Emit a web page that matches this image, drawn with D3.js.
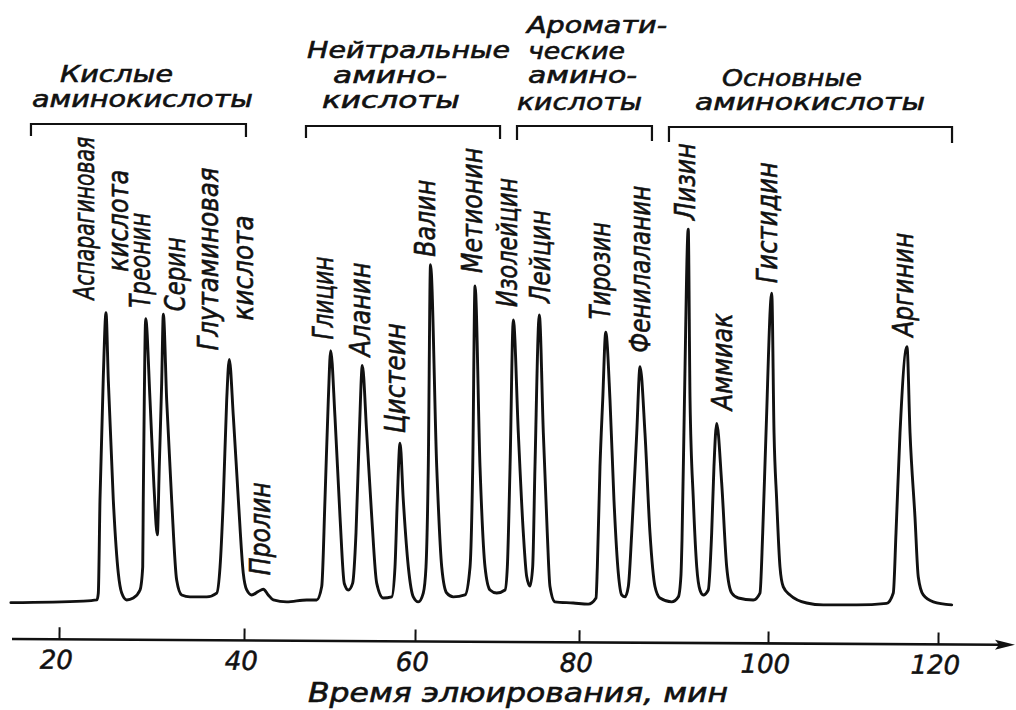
<!DOCTYPE html>
<html><head><meta charset="utf-8">
<script src="https://cdn.jsdelivr.net/npm/d3@7"></script>
<style>
html,body{margin:0;padding:0;background:#fff;}
svg{display:block;}
</style></head><body>
<svg id="chart" width="1016" height="710"></svg>
<script>
// ---- data (elution time, min ; detector signal, arbitrary units) ----
const traceTime = [14.8,22.6,24.1,24.25,24.43,24.79,25.08,25.33,25.87,26.41,26.78,27.32,28.03,28.76,29.05,29.11,29.22,29.37,29.84,30.27,30.63,30.84,31.10,31.28,31.64,32.18,32.72,33.26,34.16,35.97,37.05,37.41,37.76,38.13,38.41,38.85,39.39,39.92,40.32,40.90,41.67,42.26,42.84,43.43,44.99,47.33,48.50,49.09,49.47,49.86,50.14,50.64,51.23,51.73,52.20,52.71,53.10,53.49,53.84,54.35,54.94,55.52,56.29,57.28,57.66,57.93,58.25,58.63,59.22,59.80,60.40,61.01,61.34,61.62,61.89,62.65,63.26,63.87,64.67,66.10,66.71,67.04,67.32,67.93,68.54,69.15,69.96,70.98,71.26,71.59,71.99,72.60,73.21,73.62,74.02,74.35,74.63,75.16,75.65,76.13,76.46,77.07,79.30,80.98,81.80,81.94,82.22,82.51,82.83,83.28,83.70,84.16,84.52,84.87,85.22,85.58,86.11,86.46,86.98,87.51,88.04,88.57,89.81,90.51,90.79,90.90,91.16,91.56,91.75,92.10,92.46,92.80,93.15,93.68,94.04,94.28,94.57,95.10,95.63,96.16,96.86,98.44,99.15,99.44,99.79,100.44,100.71,101.02,101.41,101.80,102.59,104.55,106.51,110.44,113.96,114.74,115.06,115.53,116.35,116.71,117.29,117.68,118.27,119.45,121.61];
const traceSignal = [0.1,0.5,0.8,2.6,26.9,59.1,75.8,58.2,26.9,7.8,2.6,0.8,1.3,3.4,9.4,26.9,53.0,74.2,53.0,30.3,17.8,35.6,57.4,75.4,53.0,26.9,6.0,2.1,1.6,1.6,2.6,9.4,26.9,53.0,63.6,48.6,26.9,7.8,3.4,2.1,3.0,3.6,2.1,0.8,0.3,0.8,0.8,4.3,26.9,53.0,65.9,48.6,22.5,5.1,3.4,5.2,18.3,44.4,62.0,44.4,22.5,5.2,1.3,1.6,9.4,26.9,41.7,26.9,9.4,1.6,0.3,2.6,9.4,35.5,88.3,35.5,9.4,2.6,1.6,2.1,9.4,35.5,82.8,35.5,9.4,3.4,2.6,3.4,9.4,35.5,73.9,44.4,18.3,6.9,4.4,9.4,35.5,75.2,44.4,18.3,4.3,0.3,0.0,-0.3,1.3,9.4,35.5,53.0,70.7,53.0,26.9,7.8,2.1,1.6,4.3,18.3,44.4,61.7,44.4,18.3,4.3,1.3,0.3,1.6,7.3,16.4,53.0,97.6,53.0,26.9,9.4,3.4,2.1,3.4,18.3,35.5,46.9,31.3,9.4,2.6,1.3,0.8,2.6,18.3,44.4,80.9,44.4,26.9,9.4,4.2,2.1,0.0,-0.5,-0.5,-0.1,2.6,18.3,44.4,66.9,44.4,22.5,6.8,2.1,0.3,-0.5];

const peakLabels = [["Аспарагиновая","кислота"],["Треонин"],["Серин"],["Глутаминовая","кислота"],["Пролин"],["Глицин"],["Аланин"],["Цистеин"],["Валин"],["Метионин"],["Изолейцин"],["Лейцин"],["Тирозин"],["Фенилаланин"],["Лизин"],["Аммиак"],["Гистидин"],["Аргинин"]];
const peakTimes = [25.08,29.37,31.28,38.41,42.26,50.14,53.84,58.25,61.89,67.32,71.99,75.16,82.83,86.46,91.56,94.57,100.44,116.35];
const peakHeights = [75.8,74.2,75.4,63.6,3.6,65.9,62.0,41.7,88.3,82.8,73.9,75.2,70.7,61.7,97.6,46.9,80.9,66.9];

const groupLabels = [["Кислые","аминокислоты"],["Нейтральные","амино-","кислоты"],["Аромати-","ческие","амино-","кислоты"],["Основные","аминокислоты"]];
const groupStart = [16.97,47.25,72.44,89.52];
const groupEnd = [40.23,70.37,87.72,121.65];

const tickValues = [20,40,60,80,100,120];
const axisTitle = "Время элюирования, мин";

// ---- layout (label placement only) ----
// per peak label line: [dx from apex, dy from apex, text length]
const peakLabelLayout = [
  [[-12,-13,163],[22,-41,102]],
  [[4,-11,95]],
  [[22,-3,74]],
  [[-11,-9,183],[24,-39,105]],
  [[7,-14,93]],
  [[2,-11,83]],
  [[8,-9,94]],
  [[5,-10,110]],
  [[4.5,-8,77]],
  [[7,-13,125]],
  [[4,-13,129]],
  [[11,-12,93]],
  [[4,-13,97]],
  [[10,-14,167]],
  [[7,-9,77]],
  [[15,-13,97]],
  [[5,-10,121]],
  [[6,-10,104]]
];
// per group line: [dx from bracket start, baseline y, width]
const groupLabelLayout = [
  [[29,82,113],[1,107,221]],
  [[1,58,203],[27,83,114],[16,108,138]],
  [[10,33,140],[11,59,97],[11,83,109],[0,110,125]],
  [[53,86,140],[26,110,230]]
];
const bracketTop = [124,126,126,127];
const bracketBottom = [136,138,140,142];

// ---- scales ----
const x = d3.scaleLinear().domain(tickValues).range([59,244,415,579,768,938]);
const y = d3.scaleLinear().domain([0,100]).range([603,220]);

const svg = d3.select("#chart");
const ink = "#111";
const font = "'DejaVu Sans',Verdana,sans-serif";

// trace
const pts = traceTime.map((t,i)=>[t,traceSignal[i]]);
svg.append("path")
  .datum(pts)
  .attr("fill","none")
  .attr("stroke",ink)
  .attr("stroke-width",2.9)
  .attr("stroke-linejoin","round")
  .attr("stroke-linecap","round")
  .attr("d", d3.line().x(d=>x(d[0])).y(d=>y(d[1])).curve(d3.curveMonotoneX));

function inkText(sel){
  return sel.attr("font-family",font).attr("font-style","italic")
    .attr("fill",ink).attr("stroke",ink).attr("stroke-width",0.6)
    .attr("lengthAdjust","spacingAndGlyphs");
}

// peak labels
peakLabels.forEach((lines,i)=>{
  const ax = x(peakTimes[i]), ay = y(peakHeights[i]);
  lines.forEach((txt,j)=>{
    const [dx,dy,len] = peakLabelLayout[i][j];
    svg.append("text")
      .attr("transform",`translate(${ax+dx},${ay+dy}) rotate(-90)`)
      .call(inkText)
      .attr("font-size",29)
      .attr("textLength",len)
      .text(txt);
  });
});

// group brackets and labels
groupLabels.forEach((lines,i)=>{
  const x0 = x(groupStart[i]), x1 = x(groupEnd[i]);
  svg.append("path")
    .attr("d",`M${x0},${bracketBottom[i]}V${bracketTop[i]}H${x1}V${bracketBottom[i]+1}`)
    .attr("fill","none").attr("stroke",ink).attr("stroke-width",2.2);
  lines.forEach((txt,j)=>{
    const [dx,by,w] = groupLabelLayout[i][j];
    svg.append("text")
      .attr("x",x0+dx).attr("y",by)
      .call(inkText)
      .attr("font-size",23)
      .attr("textLength",w)
      .text(txt);
  });
});

// x axis (slightly skewed like the scanned original)
const axisG = svg.append("g").attr("transform","translate(0,639) rotate(0.33)");
axisG.call(d3.axisBottom(x).tickValues(tickValues).tickSizeInner(-12).tickSizeOuter(0).tickPadding(11).tickFormat(d3.format("d")));
axisG.select(".domain").remove();
axisG.selectAll(".tick line").attr("stroke",ink).attr("stroke-width",2);
axisG.selectAll(".tick text")
  .attr("font-family",font)
  .attr("font-style","italic")
  .attr("font-size",26)
  .attr("stroke",ink).attr("stroke-width",0.5)
  .attr("dx",-3)
  .attr("fill",ink);
axisG.append("line").attr("x1",12).attr("x2",1000).attr("y1",0).attr("y2",0)
  .attr("stroke",ink).attr("stroke-width",2.6);
axisG.append("path").attr("d","M995,-5L1015,0L995,5L999,0Z").attr("fill",ink);

// axis title
svg.append("text")
  .attr("x",308).attr("y",702)
  .call(inkText)
  .attr("font-size",26)
  .attr("textLength",420)
  .text(axisTitle);
</script>
</body></html>
